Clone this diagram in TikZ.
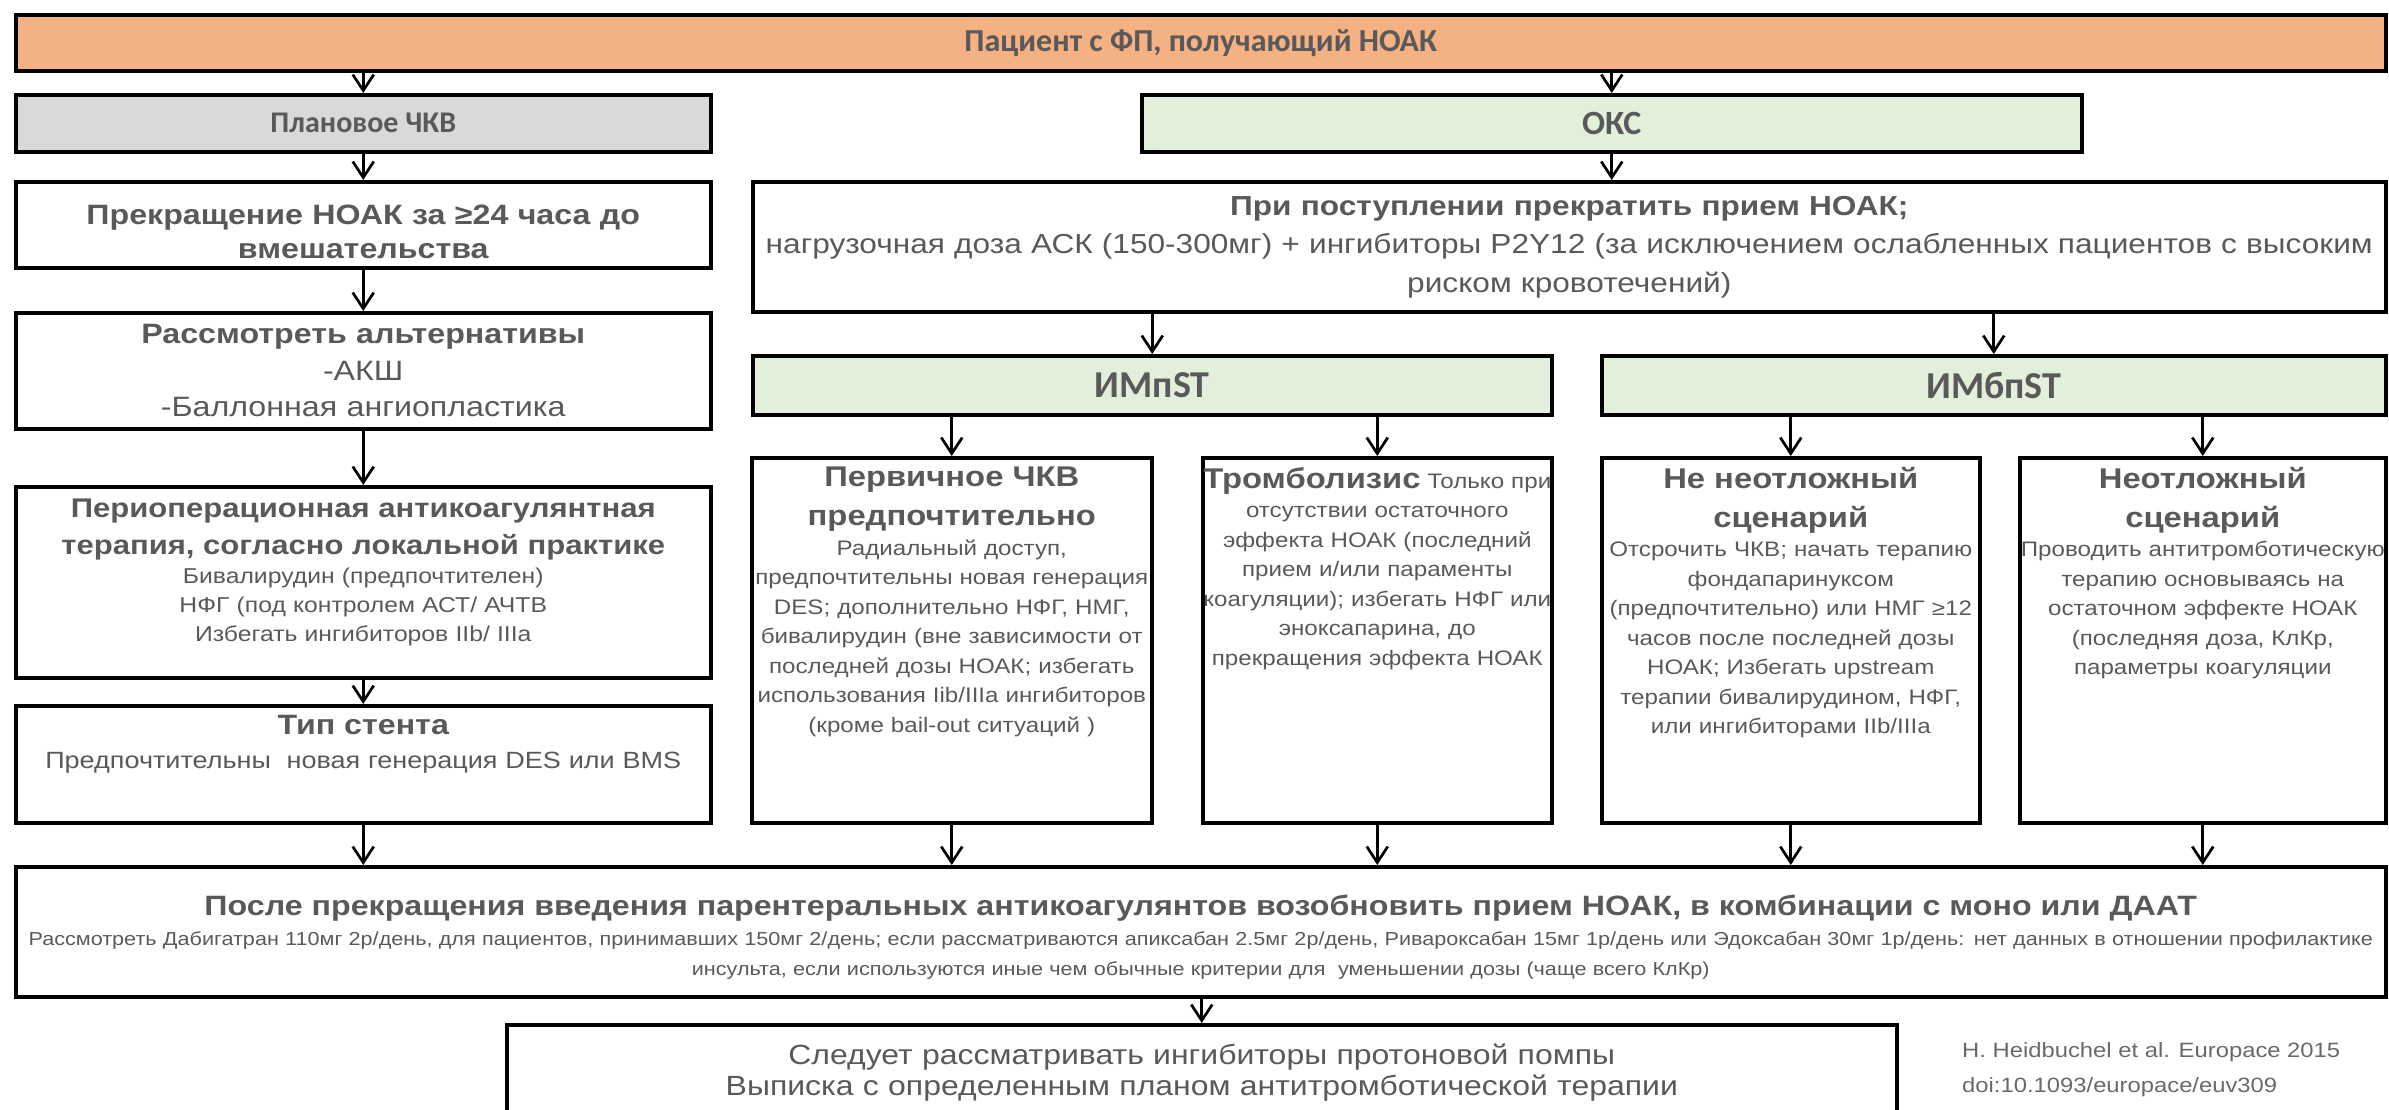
\documentclass[tikz,border=0pt]{standalone}
\usepackage{fontspec}
\setmainfont{Liberation Sans}[FakeStretch=1.15]
\newfontfamily\calib{Carlito}
\usepackage{tikz}
\usetikzlibrary{arrows.meta, positioning}
\definecolor{myorange}{RGB}{244,177,131}
\definecolor{mygray}{RGB}{217,217,217}
\definecolor{mygreen}{RGB}{226,239,218}
\definecolor{mytext}{RGB}{89,89,89}
\definecolor{mycite}{RGB}{105,105,105}
\newcommand{\fsz}[2]{\fontsize{#1}{#2}\selectfont\spaceskip=\fontdimen2\font\relax}
\newcommand{\cardhead}[1]{{\bfseries\fsz{28.5}{39}#1\par}}
\tikzset{
  box/.style={rectangle, draw=black, line width=3.5pt, anchor=north west,
    inner sep=0pt, text=mytext, align=center},
  card/.style={box, minimum height=365pt},
  txt/.style={text=mytext, align=center, inner sep=0pt, anchor=north},
  cardtxt/.style={txt, font=\fsz{21}{29.5}},
  arr/.style={-{Straight Barb[length=16pt, width=21pt]}, line width=2.7pt}
}

\begin{document}
\begin{tikzpicture}[x=1pt, y=-1pt]
  \useasboundingbox (0,0) rectangle (2389,1109);
  \clip (0,0) rectangle (2389,1109);
  % Patient on top
  \node[box, fill=myorange, minimum width=2370pt, minimum height=56pt,
    font=\calib\bfseries\fsz{32}{38}] (patient) at (14,13) {Пациент с ФП, получающий НОАК};

  % Elective PCI branch
  \node[box, fill=mygray, minimum width=695pt, minimum height=57pt,
    font=\calib\bfseries\fsz{30}{36}] (elective) at (14,93) {Плановое ЧКВ};
  \node[box, minimum width=695pt, minimum height=86pt] (stopnoac) at (14,180) {};
  \node[txt, anchor=center, text width=690pt, font=\bfseries\fsz{28}{34}] (stopnoac-t)
    at ([yshift=-7pt]stopnoac.center) {Прекращение НОАК за ≥24 часа до\\вмешательства};
  \node[box, minimum width=695pt, minimum height=116pt, text width=690pt,
    font=\fsz{28}{36.5}] (altern) at (14,311) {\textbf{Рассмотреть альтернативы}\\-АКШ\\-Баллонная ангиопластика};
  \node[box, minimum width=695pt, minimum height=191pt] (periop) at (14,485) {};
  \node[txt, text width=690pt, font=\fsz{21.5}{29}] (periop-t) at ([yshift=-14pt]periop.north)
    {{\bfseries\fsz{27}{37}Периоперационная антикоагулянтная\\терапия, согласно локальной практике\par}
     Бивалирудин (предпочтителен)\\НФГ (под контролем АСТ/ АЧТВ\\Избегать ингибиторов IIb/ IIIa};
  \node[box, minimum width=695pt, minimum height=117pt] (stent) at (14,704) {};
  \node[txt, text width=690pt, font=\fsz{23.5}{34}] (stent-t) at ([yshift=-11pt]stent.north)
    {{\bfseries\fsz{28}{34}Тип стента\par}Предпочтительны \ новая генерация DES или BMS};

  % ACS branch
  \node[box, fill=mygreen, minimum width=940pt, minimum height=57pt,
    font=\calib\bfseries\fsz{34}{40}] (acs) at (1140,93) {ОКС};
  \node[box, minimum width=1633pt, minimum height=130pt, text width=1633pt,
    font=\fsz{27.5}{38.5}] (admit) at (751,180) {\textbf{При поступлении прекратить прием НОАК;}\\нагрузочная доза АСК (150-300мг) + ингибиторы P2Y12 (за исключением ослабленных пациентов с высоким\\риском кровотечений)};
  \node[box, fill=mygreen, minimum width=799pt, minimum height=59pt,
    font=\calib\bfseries\fsz{38}{44}] (stemi) at (751,354) {ИМпST};
  \node[box, fill=mygreen, minimum width=784pt, minimum height=59pt,
    font=\calib\bfseries\fsz{38}{44}] (nstemi) at (1600,354) {ИМбпST};

  % Four scenario cards
  \node[card, minimum width=400pt] (ppci) at (750,456) {};
  \node[card, minimum width=349pt] (lysis) at (1201,456) {};
  \node[card, minimum width=378pt] (nonurg) at (1600,456) {};
  \node[card, minimum width=366pt] (urg) at (2018,456) {};
  \node[cardtxt, text width=398pt] (ppci-t) at ([yshift=-11pt]ppci.north)
    {\cardhead{Первичное ЧКВ\\предпочтительно}Радиальный доступ,\\предпочтительны новая генерация\\DES; дополнительно НФГ, НМГ,\\бивалирудин (вне зависимости от\\последней дозы НОАК; избегать\\использования Iib/IIIa ингибиторов\\(кроме bail-out ситуаций )};
  \node[cardtxt, text width=370pt] (lysis-t) at ([yshift=-11pt]lysis.north)
    {{\bfseries\fsz{28.5}{39}Тромболизис} Только при\\отсутствии остаточного\\эффекта НОАК (последний\\прием и/или параменты\\коагуляции); избегать НФГ или\\эноксапарина, до\\прекращения эффекта НОАК};
  \node[cardtxt, text width=376pt] (nonurg-t) at ([yshift=-11pt]nonurg.north)
    {\cardhead{Не неотложный\\сценарий}Отсрочить ЧКВ; начать терапию\\фондапаринуксом\\(предпочтительно) или НМГ ≥12\\часов после последней дозы\\НОАК; Избегать upstream\\терапии бивалирудином, НФГ,\\или ингибиторами IIb/IIIa};
  \node[cardtxt, text width=364pt] (urg-t) at ([yshift=-11pt]urg.north)
    {\cardhead{Неотложный\\сценарий}Проводить антитромботическую\\терапию основываясь на\\остаточном эффекте НОАК\\(последняя доза, КлКр,\\параметры коагуляции};

  % Resume and discharge
  \node[box, minimum width=2370pt, minimum height=130pt] (resume) at (14,865) {};
  \node[txt, anchor=center, text width=2366pt, font=\fsz{18.8}{30}] (resume-t) at ([yshift=-5pt]resume.center)
    {{\bfseries\fsz{28}{34}После прекращения введения парентеральных антикоагулянтов возобновить прием НОАК, в комбинации с моно или ДААТ\par}
     Рассмотреть Дабигатран 110мг 2р/день, для пациентов, принимавших 150мг 2/день; если рассматриваются апиксабан 2.5мг 2р/день, Ривароксабан 15мг 1р/день или Эдоксабан 30мг 1р/день: нет данных в отношении профилактике\\инсульта, если используются иные чем обычные критерии для \ уменьшении дозы (чаще всего КлКр)};
  \node[box, minimum width=1390pt, minimum height=120pt] (discharge) at (505,1023) {};
  \node[txt, text width=1380pt, font=\fsz{27.8}{31}] (discharge-t) at ([yshift=-21pt]discharge.north)
    {Следует рассматривать ингибиторы протоновой помпы\\Выписка с определенным планом антитромботической терапии};
  \node[txt, anchor=north west, align=left, text=mycite, font=\fsz{20.7}{35}] (cite) at (1962,1042)
    {H. Heidbuchel et al. Europace 2015\\doi:10.1093/europace/euv309};

  % Connectors
  \draw[arr] (patient.south -| elective.north) -- (elective.north);
  \draw[arr] (patient.south -| acs.north) -- (acs.north);
  \draw[arr] (elective) -- (stopnoac);
  \draw[arr] (stopnoac) -- (altern);
  \draw[arr] (altern) -- (periop);
  \draw[arr] (periop) -- (stent);
  \draw[arr] (stent.south) -- (stent.south |- resume.north);
  \draw[arr] (acs.south) -- (acs.south |- admit.north);
  \draw[arr] (admit.south -| stemi.north) -- (stemi.north);
  \draw[arr] (admit.south -| nstemi.north) -- (nstemi.north);
  \foreach \c/\p in {ppci/stemi, lysis/stemi, nonurg/nstemi, urg/nstemi} {
    \draw[arr] (\p.south -| \c.north) -- (\c.north);
    \draw[arr] (\c.south) -- (\c.south |- resume.north);
  }
  \draw[arr] (resume.south -| discharge.north) -- (discharge.north);
\end{tikzpicture}
\end{document}
